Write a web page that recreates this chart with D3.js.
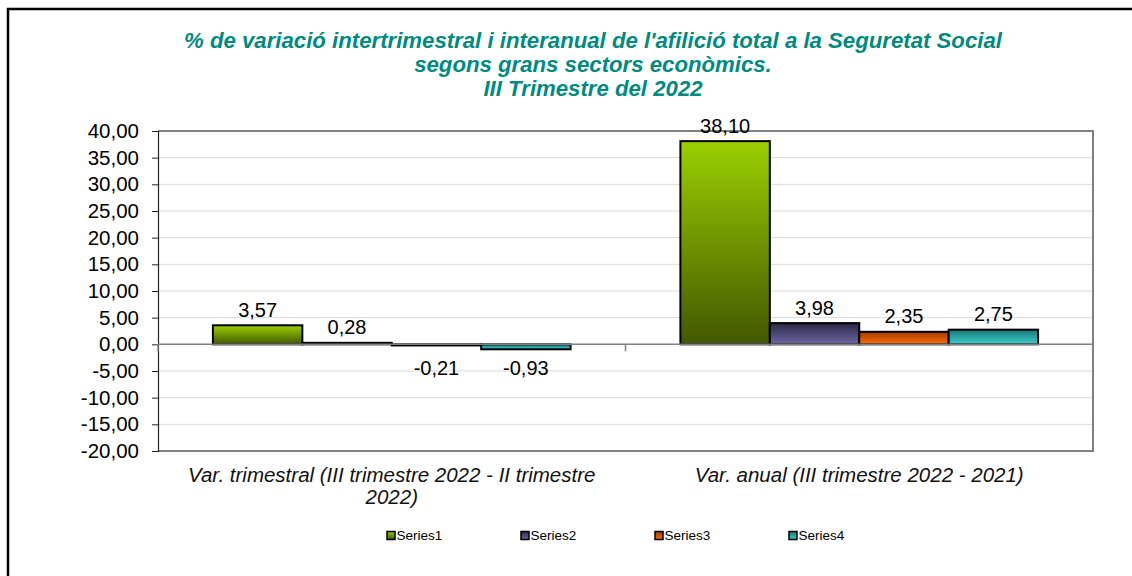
<!DOCTYPE html>
<html>
<head>
<meta charset="utf-8">
<script src="https://cdn.jsdelivr.net/npm/d3@7"></script>
<style>
    body { margin: 0; background: #fff; }
    svg { display: block; font-family: "Liberation Sans", Arial, sans-serif; }
</style>
</head>
<body>
<svg id="chart" width="1132" height="576"></svg>
<script>
const titleLines = [
    "% de variació intertrimestral i interanual de l'afilició total a la Seguretat Social",
    "segons grans sectors econòmics.",
    "III Trimestre del 2022"
];
const categories = [
    ["Var. trimestral (III trimestre 2022 - II trimestre", "2022)"],
    ["Var. anual (III trimestre 2022 - 2021)"]
];
const seriesNames = ["Series1", "Series2", "Series3", "Series4"];
const series1 = [3.57, 38.10];
const series2 = [0.28, 3.98];
const series3 = [-0.21, 2.35];
const series4 = [-0.93, 2.75];
const yTicks = [-20, -15, -10, -5, 0, 5, 10, 15, 20, 25, 30, 35, 40];

// gradient stops per series (top -> bottom)
const gradients = [
    ["#9ccf00", "#425800"],
    ["#2b2846", "#6b66a3"],
    ["#a33e00", "#ff6a00"],
    ["#1c7775", "#35cfcf"]
];

const width = 1132;
const height = 576;
const margin = {top: 131, right: 39, bottom: 125, left: 158};
const plotW = width - margin.left - margin.right;
const plotH = height - margin.top - margin.bottom;

const fmt = (v) => v.toFixed(2).replace(".", ",");

const svg = d3.select("#chart");

// frame
svg.append("path")
    .attr("d", "M8," + height + "V9H" + width)
    .attr("fill", "none")
    .attr("stroke", "#000")
    .attr("stroke-width", 2.5);

const defs = svg.append("defs");
gradients.forEach((g, i) => {
    const lg = defs.append("linearGradient")
        .attr("id", "grad" + i)
        .attr("x1", 0).attr("y1", 0).attr("x2", 0).attr("y2", 1);
    lg.append("stop").attr("offset", "0%").attr("stop-color", g[0]);
    lg.append("stop").attr("offset", "100%").attr("stop-color", g[1]);
});

// title
svg.append("g")
    .selectAll("text")
    .data(titleLines)
    .join("text")
    .attr("x", 593)
    .attr("y", (d, i) => 48 + i * 24)
    .attr("text-anchor", "middle")
    .attr("font-size", 22.2)
    .attr("font-weight", "bold")
    .attr("font-style", "italic")
    .attr("fill", "#008a80")
    .text(d => d);

const g = svg.append("g")
    .attr("transform", "translate(" + margin.left + "," + margin.top + ")");

const x0 = d3.scaleBand()
    .domain(d3.range(categories.length))
    .range([0, plotW]);

const x1 = d3.scaleBand()
    .domain(d3.range(seriesNames.length))
    .range([0, x0.bandwidth()])
    .paddingOuter(0.614)
    .paddingInner(0);

const y = d3.scaleLinear()
    .domain([-20, 40])
    .range([plotH, 0]);

// gridlines
g.append("g")
    .selectAll("line")
    .data(yTicks.filter(t => t !== 0 && t !== -20 && t !== 40))
    .join("line")
    .attr("x1", 0).attr("x2", plotW)
    .attr("y1", d => y(d)).attr("y2", d => y(d))
    .attr("stroke", "#d9d9d9")
    .attr("stroke-width", 1);

// plot border top / right / bottom
g.append("path")
    .attr("d", "M0," + y(40) + "H" + plotW + "V" + y(-20) + "H0")
    .attr("fill", "none")
    .attr("stroke", "#808080")
    .attr("stroke-width", 2);

// y axis
const yAxis = d3.axisLeft(y)
    .tickValues(yTicks)
    .tickSize(6)
    .tickFormat(fmt);

const yAxisG = g.append("g").call(yAxis);
yAxisG.select(".domain").attr("stroke", "#222").attr("stroke-width", 1.2);
yAxisG.selectAll(".tick line").attr("stroke", "#222");
yAxisG.selectAll(".tick text")
    .attr("font-size", 20.5)
    .attr("fill", "#000")
    .attr("x", -19)
    .attr("font-family", "Liberation Sans, Arial, sans-serif");

// bars
const allSeries = [series1, series2, series3, series4];
const rows = categories.map((c, ci) => allSeries.map((s, si) => ({ci: ci, si: si, v: s[ci]})));

const groups = g.append("g")
    .selectAll("g")
    .data(rows)
    .join("g")
    .attr("transform", (d, i) => "translate(" + x0(i) + ",0)");

groups.selectAll("rect")
    .data(d => d)
    .join("rect")
    .attr("x", d => x1(d.si))
    .attr("width", x1.bandwidth())
    .attr("y", d => y(Math.max(0, d.v)))
    .attr("height", d => Math.abs(y(d.v) - y(0)))
    .attr("fill", d => "url(#grad" + d.si + ")")
    .attr("stroke", "#000")
    .attr("stroke-width", 2);

// zero line with category ticks
g.append("line")
    .attr("x1", 0).attr("x2", plotW)
    .attr("y1", y(0)).attr("y2", y(0))
    .attr("stroke", "#808080")
    .attr("stroke-width", 1.5);

g.append("g")
    .selectAll("line")
    .data(d3.range(categories.length + 1))
    .join("line")
    .attr("x1", d => d * x0.bandwidth()).attr("x2", d => d * x0.bandwidth())
    .attr("y1", y(0)).attr("y2", y(0) + 7)
    .attr("stroke", "#808080")
    .attr("stroke-width", 1.5);

// value labels
groups.selectAll("text")
    .data(d => d)
    .join("text")
    .attr("x", d => x1(d.si) + x1.bandwidth() / 2)
    .attr("y", d => d.v >= 0 ? y(d.v) - 8.5 : y(0) + 31)
    .attr("text-anchor", "middle")
    .attr("font-size", 20)
    .attr("fill", "#000")
    .text(d => fmt(d.v));

// category labels
svg.append("g")
    .selectAll("text")
    .data(categories)
    .join("text")
    .attr("x", (d, i) => margin.left + x0(i) + x0.bandwidth() / 2)
    .attr("y", 482)
    .attr("text-anchor", "middle")
    .attr("font-size", 20.5)
    .attr("font-style", "italic")
    .attr("fill", "#111")
    .selectAll("tspan")
    .data(d => d)
    .join("tspan")
    .attr("x", function () { return d3.select(this.parentNode).attr("x"); })
    .attr("dy", (d, i) => i === 0 ? 0 : 22)
    .text(d => d);

// legend
const legendX = [387, 521, 655, 789];
const legend = svg.append("g")
    .selectAll("g")
    .data(seriesNames)
    .join("g")
    .attr("transform", (d, i) => "translate(" + legendX[i] + ",535.5)");

legend.append("rect")
    .attr("x", 0).attr("y", -4)
    .attr("width", 8).attr("height", 8)
    .attr("fill", (d, i) => "url(#grad" + i + ")")
    .attr("stroke", "#000")
    .attr("stroke-width", 1.5);

legend.append("text")
    .attr("x", 9.5)
    .attr("y", 4.5)
    .attr("font-size", 13.5)
    .attr("fill", "#000")
    .text(d => d);
</script>
</body>
</html>
